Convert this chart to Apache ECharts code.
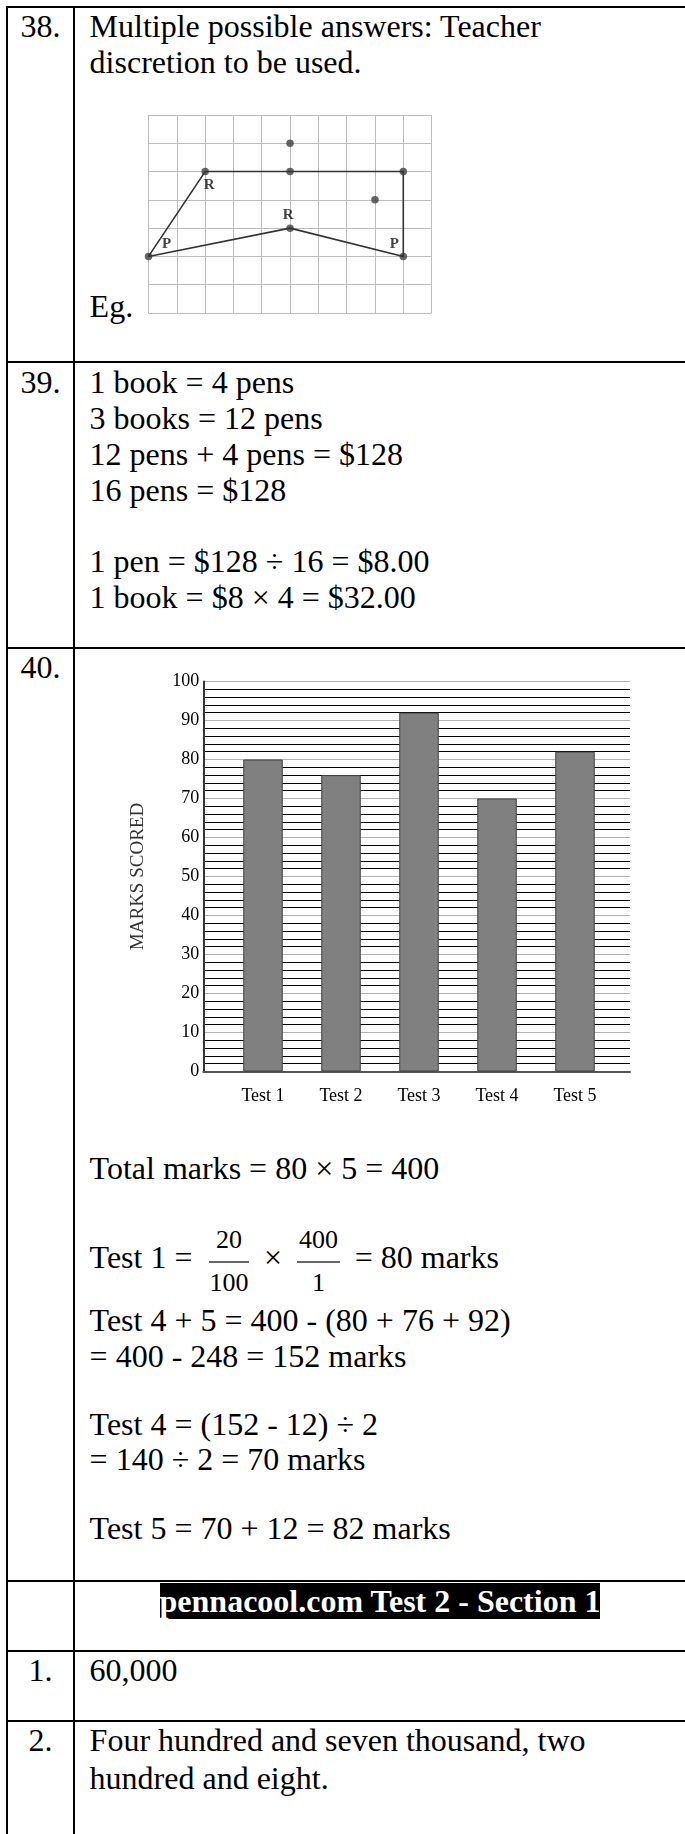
<!DOCTYPE html>
<html>
<head>
<meta charset="utf-8">
<title>Answers 38-40</title>
<script src="https://cdn.jsdelivr.net/npm/echarts@6.0.0/dist/echarts.min.js"></script>
<style>
  html, body { margin: 0; padding: 0; background: #fff; }
  #page {
    position: relative; width: 685px; height: 1834px; overflow: hidden;
    font-family: "Liberation Serif", "Times New Roman", serif; font-size: 32px; color: #000;
  }
  .t { position: absolute; white-space: nowrap; line-height: 36px; }
  .no { position: absolute; left: 7px; width: 67px; text-align: center; line-height: 36px; }
  .rule { position: absolute; background: #000; }
  .frac { position: absolute; font-size: 26px; line-height: 26px; text-align: center; }
  .bar { position: absolute; height: 2px; background: #666; }
  .band { position: absolute; left: 75px; width: 610px; text-align: center; line-height: 36px; font-weight: bold; }
  .band span { background: #000; color: #fff; }
  #shape { position: absolute; left: 140px; top: 105px; width: 300px; height: 220px; }
  #marks { position: absolute; left: 80px; top: 660px; width: 580px; height: 470px; }
</style>
</head>
<body>
<div id="page">
  <!-- table rules -->
  <div class="rule" style="left:5.5px;top:6px;width:680px;height:2px"></div>
  <div class="rule" style="left:5.5px;top:6px;width:2px;height:1828px"></div>
  <div class="rule" style="left:73.3px;top:6px;width:2px;height:1828px"></div>
  <div class="rule" style="left:5.5px;top:361px;width:680px;height:2px"></div>
  <div class="rule" style="left:5.5px;top:646.5px;width:680px;height:2px"></div>
  <div class="rule" style="left:5.5px;top:1580px;width:680px;height:2px"></div>
  <div class="rule" style="left:5.5px;top:1650px;width:680px;height:2px"></div>
  <div class="rule" style="left:5.5px;top:1720px;width:680px;height:2px"></div>

  <!-- 38 -->
  <div class="no" style="top:8px">38.</div>
  <div class="t" style="left:89.6px;top:8px">Multiple possible answers: Teacher</div>
  <div class="t" style="left:89.6px;top:44px">discretion to be used.</div>
  <div class="t" style="left:89.6px;top:288px">Eg.</div>
  <div id="shape"></div>

  <!-- 39 -->
  <div class="no" style="top:364px">39.</div>
  <div class="t" style="left:89.6px;top:364px">1 book = 4 pens</div>
  <div class="t" style="left:89.6px;top:400px">3 books = 12 pens</div>
  <div class="t" style="left:89.6px;top:436px">12 pens + 4 pens = $128</div>
  <div class="t" style="left:89.6px;top:472px">16 pens = $128</div>
  <div class="t" style="left:89.6px;top:543px">1 pen = $128 ÷ 16 = $8.00</div>
  <div class="t" style="left:89.6px;top:579px">1 book = $8 × 4 = $32.00</div>

  <!-- 40 -->
  <div class="no" style="top:649px">40.</div>
  <div id="marks"></div>
  <div class="t" style="left:89.6px;top:1150px">Total marks = 80 × 5 = 400</div>
  <div class="t" style="left:89.6px;top:1239px">Test 1 =</div>
  <div class="frac" style="left:209px;width:40px;top:1226.5px">20</div>
  <div class="bar" style="left:209px;width:40px;top:1261px"></div>
  <div class="frac" style="left:209px;width:40px;top:1270px">100</div>
  <div class="t" style="left:264px;top:1239px">×</div>
  <div class="frac" style="left:297px;width:43px;top:1226.5px">400</div>
  <div class="bar" style="left:297px;width:43px;top:1261px"></div>
  <div class="frac" style="left:297px;width:43px;top:1270px">1</div>
  <div class="t" style="left:354.7px;top:1239px">= 80 marks</div>
  <div class="t" style="left:89.6px;top:1302px">Test 4 + 5 = 400 - (80 + 76 + 92)</div>
  <div class="t" style="left:89.6px;top:1338px">= 400 - 248 = 152 marks</div>
  <div class="t" style="left:89.6px;top:1406px">Test 4 = (152 - 12) ÷ 2</div>
  <div class="t" style="left:89.6px;top:1441px">= 140 ÷ 2 = 70 marks</div>
  <div class="t" style="left:89.6px;top:1510px">Test 5 = 70 + 12 = 82 marks</div>

  <!-- section heading -->
  <div class="band" style="top:1582.5px"><span>pennacool.com Test 2 - Section 1</span></div>

  <!-- 1, 2 -->
  <div class="no" style="top:1652px">1.</div>
  <div class="t" style="left:89.6px;top:1652px">60,000</div>
  <div class="no" style="top:1722px">2.</div>
  <div class="t" style="left:89.6px;top:1722px">Four hundred and seven thousand, two</div>
  <div class="t" style="left:89.6px;top:1759.5px">hundred and eight.</div>
</div>

<script>
// Q38 square grid and shape
const gridCols = 10;
const gridRows = 7;
const shapeOutline = [[0, 2], [2, 5], [9, 5], [9, 2], [5, 3], [0, 2]];
const shapeDots = [[5, 6], [2, 5], [5, 5], [9, 5], [8, 4], [5, 3], [0, 2], [9, 2]];
const vertexTags = ["R", "R", "P", "P"];
const vertexTagAt = [[2, 5], [5, 3], [0, 2], [9, 2]];

// Q40 bar chart
const testNames = ["Test 1", "Test 2", "Test 3", "Test 4", "Test 5"];
const marks = [80, 76, 92, 70, 82];
const marksMin = 0;
const marksMax = 100;
const marksStep = 10;
const marksAxisName = "MARKS SCORED";

const serif = "Liberation Serif";

// tag label offsets, px (style only)
const tagOffsets = [[4, 14], [-2, -13], [18, -12], [-9, -12]];

const shapeChart = echarts.init(document.getElementById("shape"));
shapeChart.setOption({
  animation: false,
  grid: { left: 8.5, top: 10, width: 283.1, height: 198 },
  xAxis: {
    type: "value", min: 0, max: gridCols, interval: 1,
    axisLine: { show: false }, axisTick: { show: false }, axisLabel: { show: false },
    splitLine: { show: true, lineStyle: { color: "#bdbdbd", width: 1 } }
  },
  yAxis: {
    type: "value", min: 0, max: gridRows, interval: 1,
    axisLine: { show: false }, axisTick: { show: false }, axisLabel: { show: false },
    splitLine: { show: true, lineStyle: { color: "#bdbdbd", width: 1 } }
  },
  series: [
    {
      type: "line", data: shapeOutline, symbol: "none",
      lineStyle: { color: "#333", width: 1.6 }
    },
    {
      type: "scatter", data: shapeDots, symbolSize: 7.5,
      itemStyle: { color: "#404040" }
    },
    {
      type: "scatter", symbolSize: 0,
      data: vertexTagAt.map((c, i) => ({
        value: c,
        label: {
          show: true, formatter: vertexTags[i], position: "inside",
          offset: tagOffsets[i], fontFamily: serif, fontWeight: "bold",
          fontSize: 15, color: "#111"
        }
      }))
    }
  ]
});

const marksChart = echarts.init(document.getElementById("marks"));
marksChart.setOption({
  animation: false,
  grid: [
    { left: 123.3, top: 21.5, width: 426.7, height: 390 },
    { left: 144, top: 21.5, width: 390, height: 390 }
  ],
  xAxis: [
    {
      gridIndex: 0, type: "value", min: 0, max: 1,
      axisLine: { show: true, lineStyle: { color: "#555", width: 2 } },
      axisTick: { show: false }, axisLabel: { show: false }, splitLine: { show: false }
    },
    {
      gridIndex: 1, type: "category", data: testNames,
      axisLine: { show: false }, axisTick: { show: false },
      axisLabel: { fontFamily: serif, fontSize: 18, color: "#000", margin: 16 }
    }
  ],
  yAxis: [
    {
      gridIndex: 0, type: "value", min: marksMin, max: marksMax, interval: marksStep,
      name: marksAxisName, nameLocation: "middle", nameRotate: 90, nameGap: 56,
      nameTextStyle: { fontFamily: serif, fontSize: 19, color: "#333" },
      axisLine: { show: true, lineStyle: { color: "#333", width: 2 } },
      axisTick: { show: false },
      axisLabel: { fontFamily: serif, fontSize: 18, color: "#000", margin: 4 },
      splitLine: { show: true, lineStyle: { color: "#b3b3b3", width: 1.2 } },
      minorTick: { show: false, splitNumber: 5 },
      minorSplitLine: { show: true, lineStyle: { color: "#000", width: 1 } }
    },
    {
      gridIndex: 1, type: "value", min: marksMin, max: marksMax, show: false
    }
  ],
  series: [
    {
      type: "bar", xAxisIndex: 1, yAxisIndex: 1, data: marks, barWidth: 39.5,
      itemStyle: { color: "#808080", borderColor: "#404040", borderWidth: 1 }
    }
  ]
});
</script>
</body>
</html>
